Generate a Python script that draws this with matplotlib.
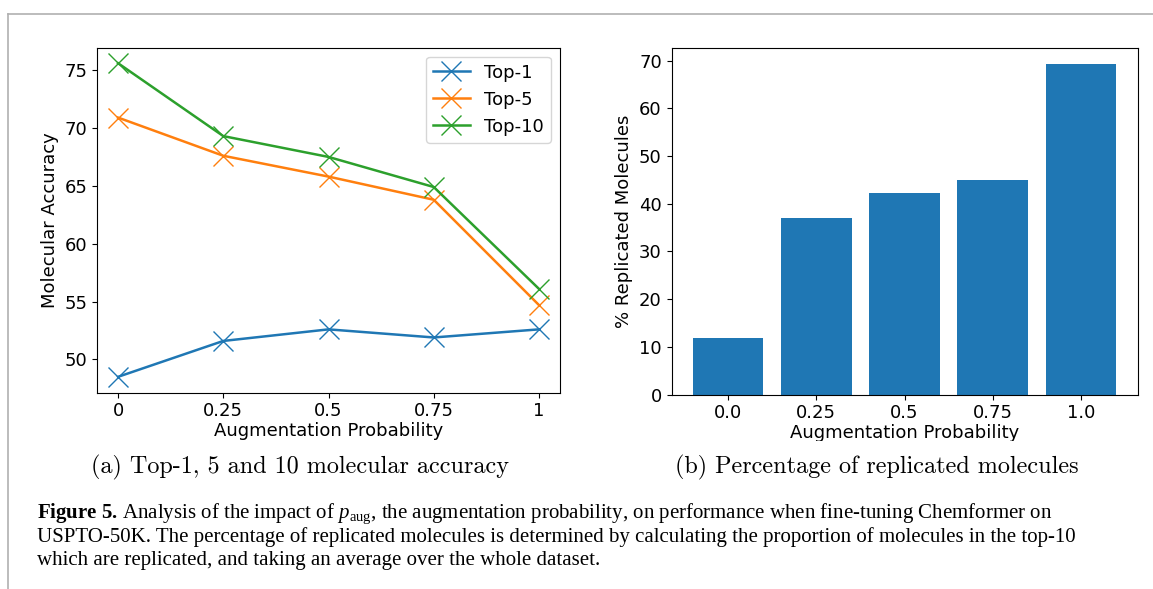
import numpy as np
import matplotlib
matplotlib.use("Agg")
import matplotlib.pyplot as plt
from matplotlib.lines import Line2D
from matplotlib.transforms import Bbox, TransformedBbox

# data
probs = [0, 0.25, 0.5, 0.75, 1]
prob_labels = ["0", "0.25", "0.5", "0.75", "1"]
top1 = [48.5, 51.6, 52.6, 51.9, 52.6]
top5 = [70.9, 67.6, 65.8, 63.8, 54.7]
top10 = [75.6, 69.3, 67.5, 64.9, 56.1]

bar_labels = ["0.0", "0.25", "0.5", "0.75", "1.0"]
replicated = [11.9, 37.1, 42.2, 45.0, 69.3]

plt.rcParams["mathtext.fontset"] = "custom"
plt.rcParams["mathtext.rm"] = "Liberation Serif"
plt.rcParams["mathtext.it"] = "Liberation Serif:italic"
plt.rcParams["mathtext.bf"] = "Liberation Serif:bold"

W, H = 1153, 589
fig = plt.figure(figsize=(W / 100, H / 100), dpi=100)
fs = 13

def px_axes(x0, y0, x1, y1):
    return fig.add_axes([x0 / W, 1 - y1 / H, (x1 - x0) / W, (y1 - y0) / H])

# (a) accuracy lines
ax1 = px_axes(97, 47.5, 560, 392.5)
ax1.plot(probs, top1, marker="x", ms=14, mew=1.0, lw=1.8, label="Top-1")
ax1.plot(probs, top5, marker="x", ms=14, mew=1.0, lw=1.8, label="Top-5")
ax1.plot(probs, top10, marker="x", ms=14, mew=1.0, lw=1.8, label="Top-10")
ax1.set_xticks(probs)
ax1.set_xticklabels(prob_labels)
ax1.set_yticks([50, 55, 60, 65, 70, 75])
ax1.tick_params(labelsize=fs)
ax1.set_xlabel("Augmentation Probability", fontsize=fs, labelpad=1)
ax1.set_ylabel("Molecular Accuracy", fontsize=fs)
ax1.legend(loc="upper right", fontsize=fs)

# (b) replicated molecules bars
ax2 = px_axes(671.5, 47.5, 1137.5, 394.5)
ax2.bar(range(len(bar_labels)), replicated, width=0.8, color="#1f77b4")
ax2.set_xticks(range(len(bar_labels)))
ax2.set_xticklabels(bar_labels)
ax2.tick_params(labelsize=fs)
xl = ax2.set_xlabel("Augmentation Probability", fontsize=fs, labelpad=1)
ax2.set_ylabel("% Replicated Molecules", fontsize=fs)
xl.set_clip_box(TransformedBbox(Bbox([[0.5, (H - 441) / H], [1, 1]]), fig.transFigure))
xl.set_clip_on(True)

# sub-captions
fig.text(300 / W, 1 - 467 / H, "(a) Top-1, 5 and 10 molecular accuracy",
         family="cmr10", fontsize=17.4, ha="center", va="center")
fig.text(877 / W, 1 - 467 / H, "(b) Percentage of replicated molecules",
         family="cmr10", fontsize=17.4, ha="center", va="center")

# figure caption
cap = [
    r"$\mathbf{Figure\ 5.\,}$Analysis of the impact of $p_{\mathrm{aug}}$, the augmentation probability, "
    "on performance when fine-tuning Chemformer on",
    "USPTO-50K. The percentage of replicated molecules is determined by calculating the proportion "
    "of molecules in the top-10",
    "which are replicated, and taking an average over the whole dataset.",
]
for i, line in enumerate(cap):
    fig.text(37 / W, 1 - (514 + 23.5 * i) / H, line, family="Liberation Serif",
             fontsize=15, ha="left", va="center")

# page frame
fig.add_artist(Line2D([8 / W, 1], [1 - 14 / H] * 2, transform=fig.transFigure,
                      color="#b0b0b0", lw=1.2))
fig.add_artist(Line2D([8 / W] * 2, [1 - 14 / H, 0], transform=fig.transFigure,
                      color="#b0b0b0", lw=1.2))

fig.savefig("out.png", dpi=100)
